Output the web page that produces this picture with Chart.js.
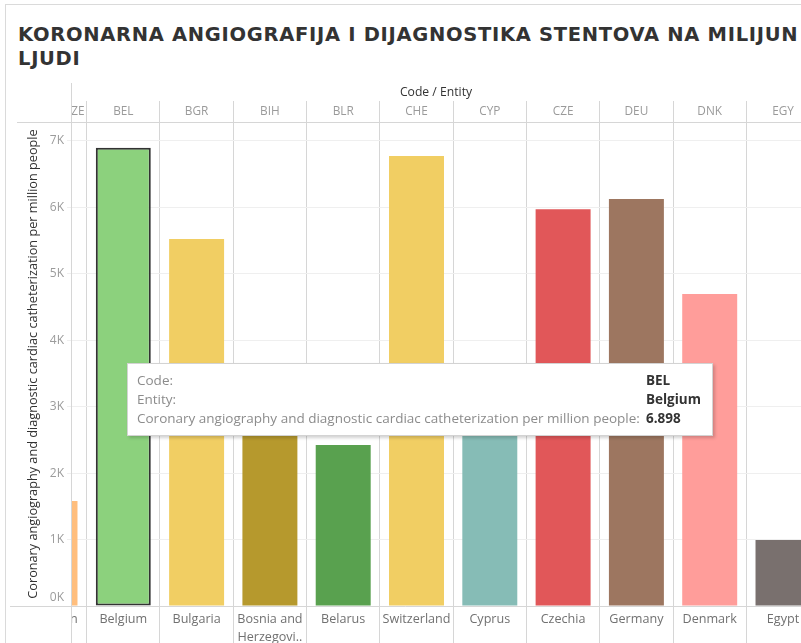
<!DOCTYPE html>
<html>
<head>
<meta charset="utf-8">
<title>Koronarna angiografija</title>
<script src="https://cdn.jsdelivr.net/npm/chart.js@4.4.1/dist/chart.umd.min.js"></script>
<style>
    html, body { margin: 0; padding: 0; background: #fff; overflow: hidden; }
    #wrap { position: relative; width: 801px; height: 643px; overflow: hidden; }
    #frame { position: absolute; left: 5px; top: 4px; width: 900px; height: 800px; border: 1px solid #dadada; }
    #title {
        position: absolute; left: 18px; top: 23px;
        font: bold 19.5px 'DejaVu Sans', sans-serif; line-height: 24.3px;
        letter-spacing: 0.7px; color: #333; white-space: nowrap;
    }
    #chart { position: absolute; left: 0; top: 0; }
    #tip {
        position: absolute; display: none; background: #fff;
        border: 1px solid #d3d3d3; box-shadow: 2px 2px 3px rgba(0, 0, 0, 0.18);
        padding: 7px 11px 7px 9px; font: 13.5px 'Open Sans', sans-serif; line-height: 19px;
    }
    #tip table { border-collapse: collapse; }
    #tip td { padding: 0; white-space: nowrap; }
    #tip td.k { color: #8c8c8c; padding-right: 6px; }
    #tip td.v { color: #333; font-weight: bold; }
</style>
</head>
<body>
<div id="wrap">
    <div id="frame"></div>
    <div id="title">KORONARNA ANGIOGRAFIJA I DIJAGNOSTIKA STENTOVA NA MILIJUN<br>LJUDI</div>
    <canvas id="chart" width="801" height="643"></canvas>
    <div id="tip"><table id="tipRows"></table></div>
</div>
<script>
    // ------------------------------------------------------
    // @Data
    // ------------------------------------------------------

    const codes      = ['AZE', 'BEL', 'BGR', 'BIH', 'BLR', 'CHE', 'CYP', 'CZE', 'DEU', 'DNK', 'EGY'];
    const entities   = ['Azerbaijan', 'Belgium', 'Bulgaria', 'Bosnia and Herzegovina', 'Belarus', 'Switzerland', 'Cyprus', 'Czechia', 'Germany', 'Denmark', 'Egypt'];
    const entityTicks = [['Azerbaijan'], ['Belgium'], ['Bulgaria'], ['Bosnia and', 'Herzegovi..'], ['Belarus'], ['Switzerland'], ['Cyprus'], ['Czechia'], ['Germany'], ['Denmark'], ['Egypt']];
    const procedures = [1581, 6898, 5525, 3100, 2424, 6774, 3000, 5972, 6127, 4697, 994];
    const yTicks     = [0, 1000, 2000, 3000, 4000, 5000, 6000, 7000];

    const barColors   = ['#FFBE7D', '#8CD17D', '#F1CE63', '#B6992D', '#59A14F', '#F1CE63', '#86BCB6', '#E15759', '#9D7660', '#FF9D9A', '#79706E'];
    const selected    = 1;

    const valueLabel = 'Coronary angiography and diagnostic cardiac catheterization per million people';
    const LINE = '#d6d6d6';
    const FONT = "'Open Sans', sans-serif";

    // visible slice of the column axis: AZE is cut on the left, EGY on the right
    const xMin = 0.2865;
    const xMax = 10.2455;

    const formatValue = v => String(v).replace(/\B(?=(\d{3})+(?!\d))/g, '.');
    const formatTick  = v => (v / 1000) + 'K';

    // ------------------------------------------------------
    // @Column headers, entity names and pane rules
    // ------------------------------------------------------

    const columnLabels = {
        id: 'columnLabels',
        afterDraw(chart) {
            const { ctx, chartArea } = chart;
            const x = chart.scales.x;

            ctx.save();
            ctx.strokeStyle = LINE;
            ctx.lineWidth = 1;
            ctx.beginPath();
            ctx.moveTo(chartArea.left + 0.5, 83);
            ctx.lineTo(chartArea.left + 0.5, chart.height);
            ctx.moveTo(17, chartArea.top + 0.5);
            ctx.lineTo(chartArea.right, chartArea.top + 0.5);
            ctx.moveTo(10, chartArea.bottom + 0.5);
            ctx.lineTo(chartArea.right, chartArea.bottom + 0.5);
            ctx.stroke();

            // the baseline label sits just inside the pane
            ctx.font = '12px ' + FONT;
            ctx.fillStyle = '#9b9b9b';
            ctx.textAlign = 'right';
            ctx.textBaseline = 'middle';
            ctx.fillText(formatTick(yTicks[0]), chartArea.left - 7, chartArea.bottom - 8);

            ctx.beginPath();
            ctx.rect(chartArea.left + 1, 0, chartArea.right - chartArea.left, chart.height);
            ctx.clip();

            codes.forEach((code, i) => {
                const right = x.getPixelForValue(i + 0.5);
                const cut = x.getPixelForValue(i - 0.5) < chartArea.left;

                ctx.font = '11.8px ' + FONT;
                ctx.fillStyle = '#9a9a9a';
                ctx.textAlign = cut ? 'right' : 'center';
                ctx.fillText(code, cut ? right - 2 : x.getPixelForValue(i), 112);

                ctx.font = '12.6px ' + FONT;
                ctx.fillStyle = '#717171';
                entityTicks[i].forEach((line, k) => {
                    ctx.fillText(line, cut ? right - 9 : x.getPixelForValue(i), 619.5 + k * 17.5);
                });
            });
            ctx.restore();
        },
    };

    // ------------------------------------------------------
    // @Tooltip
    // ------------------------------------------------------

    Chart.Tooltip.positioners.cursor = (items, eventPosition) => eventPosition;

    function externalTip({ tooltip }) {
        const tip = document.getElementById('tip');
        if (tooltip.opacity === 0 || !tooltip.dataPoints) {
            tip.style.display = 'none';
            return;
        }
        const i = tooltip.dataPoints[0].dataIndex;
        const rows = [
            ['Code:', codes[i]],
            ['Entity:', entities[i]],
            [valueLabel + ':', formatValue(procedures[i])],
        ];
        document.getElementById('tipRows').innerHTML = rows
            .map(r => '<tr><td class="k">' + r[0] + '</td><td class="v">' + r[1] + '</td></tr>')
            .join('');
        tip.style.display = 'block';
        tip.style.left = Math.round(tooltip.caretX) + 'px';
        tip.style.top = Math.round(tooltip.caretY) + 'px';
    }

    // ------------------------------------------------------
    // @Bar Chart
    // ------------------------------------------------------

    const ctx = document.getElementById('chart').getContext('2d');

    const chart = new Chart(ctx, {
        type: 'bar',
        data: {
            datasets: [{
                label           : valueLabel,
                data            : procedures.map((v, i) => ({ x: i, y: v })),
                backgroundColor : barColors,
                borderColor     : codes.map((c, i) => (i === selected ? '#333333' : barColors[i])),
                borderWidth     : codes.map((c, i) => (i === selected ? 2 : 0)),
                borderSkipped   : false,
                barPercentage   : 0.75,
                categoryPercentage : 1,
            }],
        },
        options: {
            responsive: false,
            animation: false,
            devicePixelRatio: 1,
            events: [],
            layout: { padding: { top: 83, left: 0, right: 0, bottom: 0 } },
            plugins: {
                legend: { display: false },
                tooltip: {
                    enabled: false,
                    position: 'cursor',
                    external: externalTip,
                },
            },
            scales: {
                x: {
                    type: 'linear',
                    position: 'bottom',
                    min: xMin,
                    max: xMax,
                    offset: false,
                    afterBuildTicks: scale => {
                        scale.ticks = codes.slice(1).map((c, i) => ({ value: i + 0.5 }));
                    },
                    afterFit: scale => { scale.height = 37; },
                    ticks: { display: false },
                    grid: {
                        offset: false,
                        color: LINE,
                        tickColor: LINE,
                        tickLength: 37,
                    },
                    border: { display: false },
                },
                x2: {
                    type: 'linear',
                    axis: 'x',
                    position: 'top',
                    min: xMin,
                    max: xMax,
                    offset: false,
                    afterBuildTicks: scale => {
                        scale.ticks = codes.slice(1).map((c, i) => ({ value: i + 0.5 }));
                    },
                    afterFit: scale => { scale.height = 39; },
                    ticks: { display: false },
                    title: {
                        display: true,
                        text: 'Code / Entity',
                        color: '#333',
                        font: { family: FONT, size: 12.2 },
                        padding: { top: 2, bottom: 0 },
                    },
                    grid: {
                        offset: false,
                        drawOnChartArea: false,
                        tickColor: LINE,
                        tickLength: 21,
                    },
                    border: { display: false },
                },
                y: {
                    min: 0,
                    max: 7286,
                    afterBuildTicks: scale => {
                        scale.ticks = yTicks.map(v => ({ value: v }));
                    },
                    afterFit: scale => { scale.width = 71; },
                    ticks: {
                        color: '#9b9b9b',
                        font: { family: FONT, size: 12 },
                        padding: 3,
                        // 0K is drawn by columnLabels, lifted off the baseline
                        callback: v => (v === yTicks[0] ? '' : formatTick(v)),
                    },
                    title: {
                        display: true,
                        text: valueLabel,
                        color: '#333',
                        font: { family: FONT, size: 12.7 },
                        padding: { top: 26, bottom: 0 },
                    },
                    grid: {
                        color: '#efefef',
                        tickColor: '#efefef',
                        tickLength: 4,
                    },
                    border: { display: false },
                },
            },
        },
        plugins: [columnLabels],
    });

    // hovered column: Belgium
    chart.tooltip.setActiveElements(
        [{ datasetIndex: 0, index: selected }],
        { x: chart.scales.x.getPixelForValue(selected) + 4, y: 363 }
    );
    chart.update();
</script>
</body>
</html>
